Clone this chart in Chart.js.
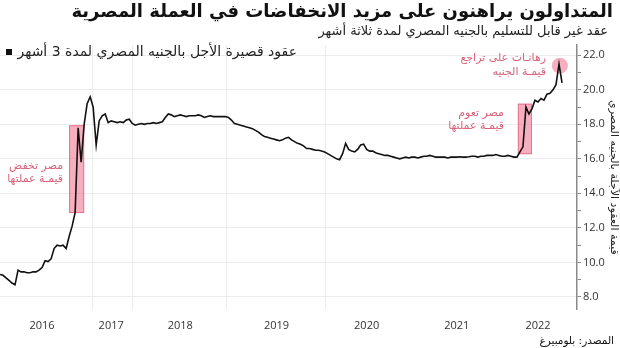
<!DOCTYPE html>
<html><head><meta charset="utf-8">
<script src="https://cdn.jsdelivr.net/npm/chart.js@4/dist/chart.umd.min.js"></script>
<style>html,body{margin:0;padding:0;background:#fff}#wrap{width:620px;height:348px}</style>
</head><body><div id="wrap"><canvas id="c" width="620" height="348"></canvas></div>
<script>
// ---- data (one value per sampling step, oldest first) ----
const ndfValues = [
9.3,9.25,9.1,8.95,8.8,8.7,9.55,9.45,9.45,9.4,9.4,9.45,9.45,9.55,9.7,10.1,10.05,10.2,10.8,11.0,
10.95,11.0,10.8,11.5,12.1,12.9,17.8,15.8,18.0,19.2,19.6,19.0,16.8,18.2,18.5,18.6,18.1,18.2,18.15,18.1,
18.15,18.1,18.25,18.3,18.05,17.95,18.0,18.05,18.0,18.05,18.05,18.1,18.05,18.1,18.15,18.4,18.6,18.55,18.45,18.5,
18.55,18.5,18.45,18.5,18.5,18.5,18.55,18.5,18.4,18.45,18.5,18.45,18.45,18.45,18.45,18.45,18.4,18.25,18.05,18.0,
17.95,17.9,17.85,17.8,17.75,17.65,17.55,17.4,17.3,17.25,17.2,17.15,17.1,17.05,17.1,17.2,17.25,17.1,17.0,16.9,
16.85,16.75,16.6,16.6,16.55,16.5,16.5,16.45,16.4,16.3,16.2,16.1,16.0,15.95,16.3,16.9,16.55,16.45,16.4,16.55,
16.8,16.85,16.55,16.45,16.45,16.35,16.3,16.25,16.2,16.2,16.15,16.1,16.05,16.0,16.05,16.1,16.05,16.1,16.1,16.05,
16.1,16.15,16.15,16.2,16.15,16.1,16.1,16.1,16.1,16.05,16.1,16.1,16.1,16.12,16.1,16.1,16.12,16.15,16.15,16.1,
16.15,16.15,16.2,16.2,16.2,16.25,16.2,16.15,16.15,16.2,16.15,16.1,16.1,16.4,16.7,19.0,18.6,18.9,19.4,19.3,
19.5,19.4,19.75,19.8,20.0,20.3,21.5,20.4
];
const xSlots = 192;                       // axis length in sampling steps
const yearLabels = ['2016','2017','2018','2019','2020','2021','2022'];
const yearTickAt = [14,37,60,92,122,152,179];
const xGridAt = [30.5,44,75.3,108];
const yTicks = [8,9,10,11,12,13,14,15,16,17,18,19,20,21,22];

const titleText = 'المتداولون يراهنون على مزيد الانخفاضات في العملة المصرية';
const subtitleText = 'عقد غير قابل للتسليم بالجنيه المصري لمدة ثلاثة أشهر';
const legendText = 'عقود قصيرة الأجل بالجنيه المصري لمدة 3 أشهر';
const axisTitle = 'قيمة العقود الآجلة بالجنيه المصري';
const sourceText = 'المصدر: بلومبيرغ';

// highlight boxes in data coordinates [x0, x1, yLow, yHigh]
const boxes = [[23,28,12.86,17.95],[172.3,177,16.27,19.2]];
const circleAt = [186.3,21.4];
const notes = [
  {x:21, y:[15.58,14.8], lines:['مصر تخفض','قيمـة عملتها']},
  {x:167.7, y:[18.64,17.89], lines:['مصر تعوم','قيمـة عملتها']},
  {x:181.7, y:[21.82,21.01], lines:['رهانـات على تراجع','قيمـة الجنيه']}
];

const AR = '"DejaVu Sans"';
const NUM = '"Open Sans","DejaVu Sans"';
const pink = 'rgba(240,110,140,0.55)';
const pinkEdge = 'rgba(225,90,120,0.7)';
const noteColor = '#d9637c';

const deco = {
  id:'deco',
  beforeDatasetsDraw(chart){
    const {ctx, scales:{x,y}, chartArea:a} = chart;
    ctx.save();
    ctx.strokeStyle = '#ececec'; ctx.lineWidth = 1;
    xGridAt.forEach(v=>{const px=Math.round(x.getPixelForValue(v))+0.5;ctx.beginPath();ctx.moveTo(px,a.top);ctx.lineTo(px,a.bottom);ctx.stroke();});
    boxes.forEach(b=>{
      const x0=x.getPixelForValue(b[0]), x1=x.getPixelForValue(b[1]);
      const y0=y.getPixelForValue(b[3]), y1=y.getPixelForValue(b[2]);
      ctx.fillStyle=pink; ctx.fillRect(x0,y0,x1-x0,y1-y0);
      ctx.strokeStyle=pinkEdge; ctx.strokeRect(x0+0.5,y0+0.5,x1-x0-1,y1-y0-1);
    });
    ctx.beginPath();
    ctx.arc(x.getPixelForValue(circleAt[0]), y.getPixelForValue(circleAt[1]), 8, 0, Math.PI*2);
    ctx.fillStyle=pink; ctx.fill();
    ctx.font = '11px '+AR; ctx.fillStyle = noteColor; ctx.textAlign='right'; ctx.textBaseline='middle';
    notes.forEach(n=>{ n.lines.forEach((t,i)=>ctx.fillText(t, x.getPixelForValue(n.x), y.getPixelForValue(n.y[i]))); });
    ctx.restore();
  },
  afterDraw(chart){
    const ctx = chart.ctx;
    ctx.save();
    ctx.direction='rtl';
    ctx.textAlign='right'; ctx.textBaseline='middle'; ctx.fillStyle='#111';
    ctx.font='bold 18px '+AR; ctx.fillText(titleText, 613, 12);
    ctx.font='13px '+AR; ctx.fillStyle='#222'; ctx.fillText(subtitleText, 608, 32);
    ctx.font='14px '+AR; ctx.fillText(legendText, 297, 52);
    ctx.fillStyle='#111'; ctx.fillRect(6,49,6,6);
    ctx.font='10.5px '+AR; ctx.fillText(sourceText, 614, 341);
    ctx.restore();
  }
};

new Chart(document.getElementById('c'), {
  type:'line',
  data:{datasets:[{
    data: ndfValues.map((v,i)=>({x:i,y:v})),
    borderColor:'#111', borderWidth:1.6, pointRadius:0, tension:0, fill:false
  }]},
  options:{
    responsive:false, animation:false, devicePixelRatio:1,
    layout:{padding:{top:45,left:0,right:0,bottom:15}},
    plugins:{legend:{display:false}, tooltip:{enabled:false}, title:{display:false}},
    scales:{
      x:{type:'linear', min:0, max:xSlots,
        afterBuildTicks(s){ s.ticks = yearTickAt.map(v=>({value:v})); },
        ticks:{autoSkip:false, maxRotation:0, padding:1, color:'#333', font:{family:NUM, size:11},
          callback:(v)=>{const k=yearTickAt.indexOf(v); return k>=0?yearLabels[k]:'';}},
        grid:{display:false}, border:{display:false}},
      y:{position:'right', min:7.25, max:22.6,
        afterBuildTicks(s){ s.ticks = yTicks.map(v=>({value:v})); },
        ticks:{padding:2, color:'#333', font:{family:NUM, size:11},
          callback:(v)=> v%2===0 ? v.toFixed(1) : ''},
        grid:{color:(c)=> (c.tick && c.tick.value%2===0) ? '#ececec' : 'rgba(0,0,0,0)',
          tickColor:'#888', tickLength:4, drawTicks:true},
        border:{display:true, color:'#8a8a8a', width:1.5},
        title:{display:true, text:axisTitle, color:'#222', font:{family:AR, size:11}, padding:{top:0,bottom:0}}}
    }
  },
  plugins:[deco]
});
</script></body></html>
